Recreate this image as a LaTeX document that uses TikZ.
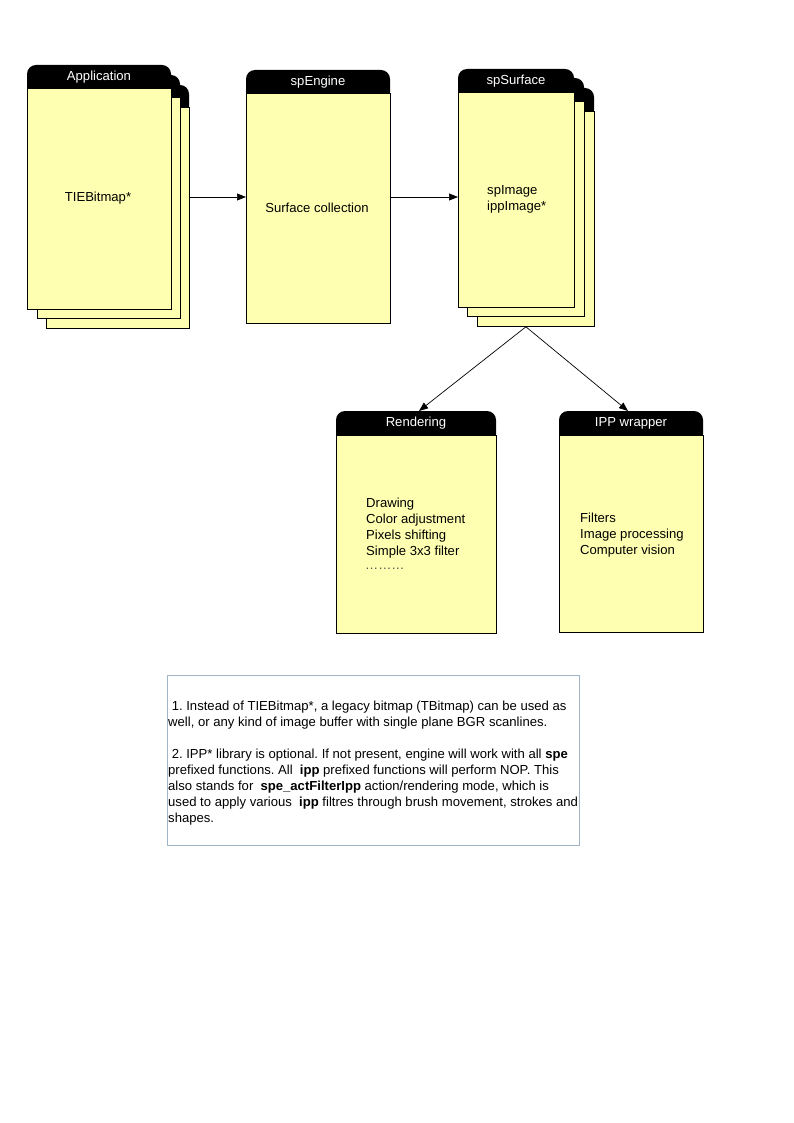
\documentclass[tikz,border=0pt]{standalone}
\usepackage{fontspec}
\setmainfont{Liberation Sans}
\usetikzlibrary{arrows.meta}
\frenchspacing
\definecolor{cardyellow}{RGB}{255,255,178}
\definecolor{noteborder}{RGB}{160,180,200}
\definecolor{dotgray}{RGB}{80,80,80}
\newcommand\mkcard[7]{%
  \fill[black, rounded corners=9pt] (#2,#5+8) -- (#2,#3) -- (#4,#3) -- (#4,#5+8) -- cycle;
  \pgfmathsetmacro\cw{#4-#2}\pgfmathsetmacro\ch{#6-#5}%
  \node[cardbody, minimum width=\cw pt, minimum height=\ch pt] (#1) at (#2,#5) {};
  \coordinate (#1top) at ({(#2+#4)/2},#3);
  \node[hdr] (#1h) at ({(#2+#4)/2},{(#3+#5)/2+0.5}) {#7};
}
\begin{document}
\begin{tikzpicture}[x=1pt,y=-1pt,
  hdr/.style={text=white, font=\fontsize{13.1}{15}\selectfont, inner sep=0pt},
  txt/.style={font=\fontsize{13.1}{16}\selectfont, inner sep=0pt, align=left},
  cardbody/.style={draw=black, fill=cardyellow, line width=0.8pt, inner sep=0pt, anchor=north west},
  arr/.style={line width=0.7pt, -{Triangle[length=9pt,width=7pt]}}]
\useasboundingbox (0,0) rectangle (794,1123);
\fill[white] (0,0) rectangle (794,1123);

% Application stack
\mkcard{app3}{46}{85}{189}{107}{328}{}
\mkcard{app2}{37}{75}{180}{97}{318}{}
\mkcard{app}{27}{65}{171}{88}{309}{Application}
\node[txt] (appT) at (98,198) {TIEBitmap*};

% spEngine
\mkcard{eng}{246}{70}{390}{93}{323}{spEngine}
\node[txt] (engT) at (317,208) {Surface collection};

% spSurface stack
\mkcard{surf3}{477}{88}{594}{111}{326}{}
\mkcard{surf2}{467}{78}{584}{101}{316}{}
\mkcard{surf}{458}{69}{574}{92}{307}{spSurface}
\node[txt, anchor=west] (surfT) at (487,199) {spImage\\ippImage*};

% Rendering
\mkcard{rend}{336}{411}{496}{435}{633}{Rendering}
\node[txt, anchor=north west] (rendT) at (366,498) {Drawing\\Color adjustment\\Pixels shifting\\Simple 3x3 filter};
\node[txt, anchor=west, text=dotgray] (rendDots) at (365,569) {………};

% IPP wrapper
\mkcard{ipp}{559}{411}{703}{435}{632}{IPP wrapper}
\node[txt, anchor=north west] (ippT) at (580,513) {Filters\\Image processing\\Computer vision};

% connectors
\coordinate (row) at (0,197);
\draw[arr] (app3.east |- row) -- (eng.west |- row);
\draw[arr] (eng.east |- row) -- (surf.west |- row);
\coordinate (sapex) at (surf2.south |- surf3.south);
\draw[arr] (sapex) -- ([xshift=3pt]rendtop);
\draw[arr] (sapex) -- ([xshift=-3pt]ipptop);

% note
\node[draw=noteborder, line width=0.8pt, anchor=north west, minimum width=412pt, minimum height=170pt, inner sep=0pt] (note) at (167,675) {};
\node[txt, anchor=north west] (noteT) at (168,701) {%
\hspace*{3.6pt}1. Instead of TIEBitmap*, a legacy bitmap (TBitmap) can be used as\\
well, or any kind of image buffer with single plane BGR scanlines.\\[16pt]
\hspace*{3.6pt}2. IPP* library is optional. If not present, engine will work with all \textbf{spe}\\
prefixed functions. All\hspace*{7.2pt}\textbf{ipp} prefixed functions will perform NOP. This\\
also stands for\hspace*{7.2pt}\textbf{spe\_actFilterIpp} action/rendering mode, which is\\
used to apply various\hspace*{7.2pt}\textbf{ipp} filtres through brush movement, strokes and\\
shapes.};
\end{tikzpicture}
\end{document}
